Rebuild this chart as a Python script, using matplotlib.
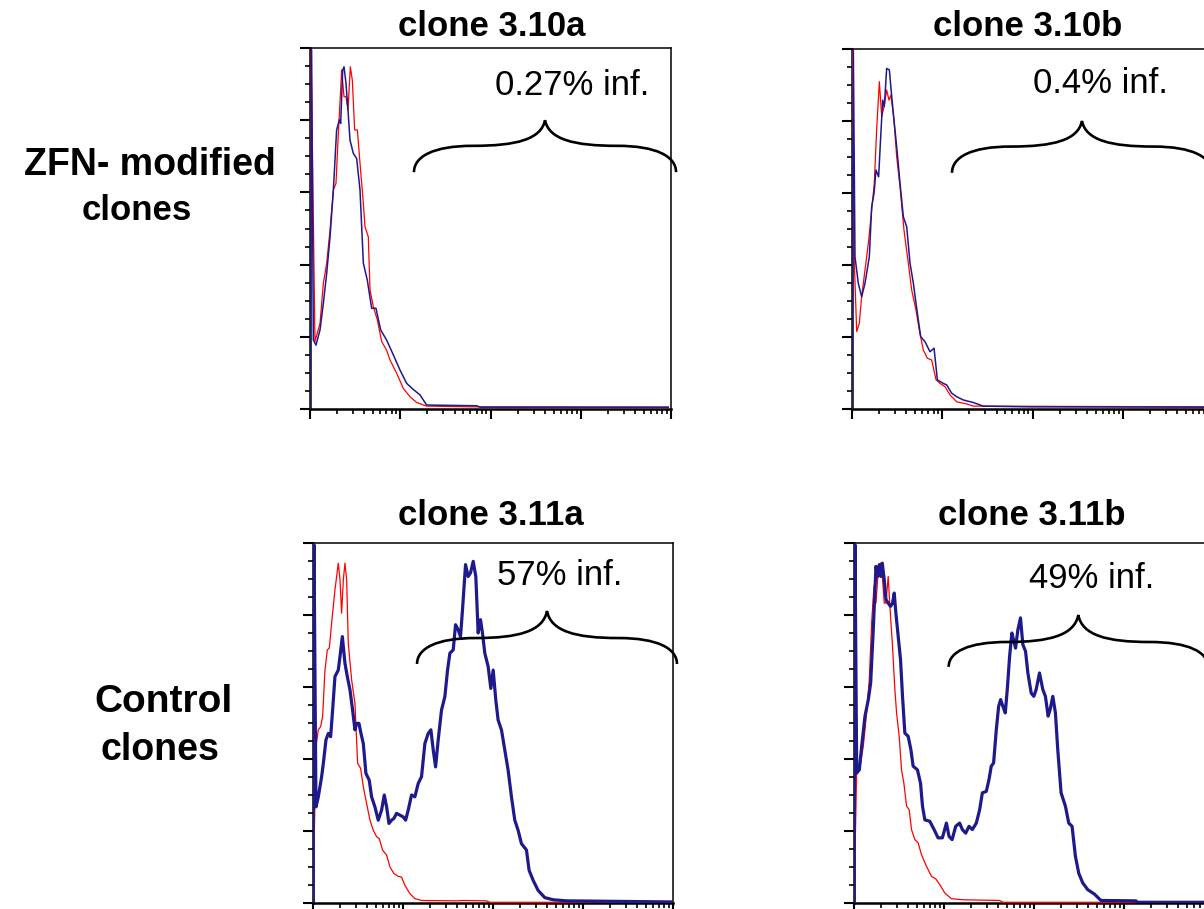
import numpy as np
import matplotlib
matplotlib.use("Agg")
import matplotlib.pyplot as plt
from matplotlib.path import Path
from matplotlib.patches import PathPatch
from matplotlib.ticker import MultipleLocator, LogLocator, NullFormatter

# ---------------- data (x = log10 fluorescence, y = % of max count) ----------------
titles = ["clone 3.10a", "clone 3.10b", "clone 3.11a", "clone 3.11b"]
infected_labels = ["0.27% inf.", "0.4% inf.", "57% inf.", "49% inf."]
row_labels = ["ZFN- modified\nclones", "Control\nclones"]

c310a_blue_x = [0.0, 0.018, 0.037, 0.066, 0.111, 0.148, 0.185, 0.222, 0.259, 0.295, 0.325, 0.340,
                0.362, 0.377, 0.399, 0.421, 0.443, 0.480, 0.517, 0.554, 0.591, 0.635, 0.683, 0.731,
                0.783, 0.849, 0.923, 0.997, 1.071, 1.145, 1.219, 1.292, 1.847, 1.883, 3.97]
c310a_blue_y = [0, 99.5, 19.1, 17.7, 21.9, 29.3, 37.6, 47.7, 60.7, 77.3, 80.1, 79.1,
                93.9, 94.8, 90.2, 82.8, 74.5, 70.8, 69.4, 60.7, 40.4, 35.7, 27.9, 27.9,
                21.9, 19.1, 15.0, 10.8, 7.1, 5.4, 3.9, 1.1, 0.9, 0.5, 0.5]
c310a_red_x = [0.0, 0.012, 0.055, 0.111, 0.148, 0.185, 0.222, 0.259, 0.288, 0.314, 0.351, 0.377,
               0.399, 0.421, 0.447, 0.469, 0.495, 0.525, 0.554, 0.591, 0.609, 0.646, 0.665, 0.702,
               0.746, 0.794, 0.849, 0.886, 0.960, 1.034, 1.108, 1.182, 1.292, 1.773, 3.97]
c310a_red_y = [0, 99.5, 18.7, 23.7, 34.8, 40.4, 49.6, 60.7, 62.5, 76.3, 93.9, 86.5,
               86.5, 82.8, 94.8, 91.1, 77.3, 77.3, 68.1, 57.0, 50.5, 47.7, 33.0, 28.3,
               24.7, 18.7, 16.3, 13.6, 9.9, 5.7, 3.4, 1.8, 0.8, 0.6, 0.5]

c310b_blue_x = [0.0, 0.015, 0.033, 0.070, 0.107, 0.144, 0.192, 0.218, 0.244, 0.266, 0.295, 0.318,
                0.340, 0.358, 0.384, 0.414, 0.440, 0.465, 0.495, 0.532, 0.569, 0.606, 0.643, 0.680,
                0.724, 0.761, 0.809, 0.864, 0.909, 0.946, 1.012, 1.049, 1.104, 1.160, 1.234, 1.344,
                1.455, 1.972, 3.97]
c310b_blue_y = [0, 99.5, 42.3, 34.9, 31.2, 34.9, 42.3, 56.2, 59.9, 66.4, 64.5, 75.6,
                85.8, 84.0, 94.6, 94.2, 86.8, 80.3, 72.9, 62.7, 53.4, 50.6, 40.5, 34.9,
                26.6, 20.1, 18.7, 15.9, 16.9, 8.1, 7.1, 6.7, 4.4, 3.4, 2.5, 1.8,
                0.8, 0.6, 0.5]
c310b_red_x = [0.0, 0.007, 0.026, 0.052, 0.081, 0.107, 0.144, 0.181, 0.218, 0.247, 0.273, 0.303,
               0.329, 0.355, 0.384, 0.410, 0.432, 0.465, 0.495, 0.532, 0.576, 0.624, 0.661, 0.709,
               0.746, 0.790, 0.835, 0.883, 0.931, 0.975, 1.031, 1.086, 1.160, 1.271, 1.344, 3.97]
c310b_red_y = [0, 99.5, 40.5, 21.5, 23.8, 31.2, 38.6, 46.0, 55.3, 62.7, 77.5, 90.9,
               81.2, 84.0, 88.6, 85.8, 87.2, 80.3, 70.1, 61.8, 49.7, 40.5, 33.1, 27.5,
               21.9, 16.4, 14.1, 13.6, 8.1, 7.1, 6.2, 3.9, 2.0, 1.4, 0.8, 0.6]

c311a_blue_x = [0.0, 0.011, 0.033, 0.059, 0.096, 0.115, 0.144, 0.170, 0.196, 0.218, 0.244, 0.281,
                0.300, 0.326, 0.355, 0.381, 0.411, 0.440, 0.466, 0.485, 0.511, 0.533, 0.559, 0.588,
                0.625, 0.651, 0.688, 0.725, 0.762, 0.792, 0.818, 0.844, 0.873, 0.899, 0.929, 0.966,
                1.003, 1.029, 1.058, 1.095, 1.132, 1.169, 1.206, 1.243, 1.280, 1.310, 1.336, 1.362,
                1.391, 1.428, 1.465, 1.495, 1.521, 1.558, 1.584, 1.613, 1.639, 1.661, 1.695, 1.724,
                1.750, 1.780, 1.809, 1.835, 1.861, 1.883, 1.909, 1.946, 1.976, 2.002, 2.031, 2.057,
                2.094, 2.131, 2.168, 2.205, 2.242, 2.279, 2.316, 2.372, 2.401, 2.446, 2.501, 2.575,
                2.668, 2.816, 3.98]
c311a_blue_y = [0, 99.5, 26.7, 29.5, 35.1, 38.8, 45.3, 47.1, 46.2, 53.6, 62.9, 64.7,
                68.5, 74.0, 66.6, 62.9, 59.2, 53.6, 48.1, 49.9, 49.9, 47.1, 44.3, 36.0,
                34.1, 29.5, 26.7, 23.0, 25.8, 30.0, 26.7, 22.1, 23.0, 23.5, 24.9, 24.4,
                23.9, 23.0, 25.8, 30.0, 29.5, 33.2, 35.1, 44.3, 47.1, 48.1, 42.5, 37.8,
                45.3, 53.6, 57.3, 64.7, 69.4, 70.3, 77.3, 75.9, 74.0, 81.4, 94.0, 90.7,
                91.7, 94.9, 90.7, 75.0, 78.7, 75.0, 69.4, 65.7, 59.6, 64.7, 56.4, 50.8,
                48.1, 42.5, 36.9, 29.5, 23.0, 20.2, 16.5, 14.7, 9.1, 6.3, 3.5, 1.5,
                0.9, 0.6, 0.3]
c311a_red_x = [0.0, 0.033, 0.059, 0.085, 0.107, 0.133, 0.159, 0.181, 0.207, 0.244, 0.281, 0.300,
               0.318, 0.337, 0.355, 0.374, 0.392, 0.429, 0.466, 0.496, 0.529, 0.559, 0.596, 0.633,
               0.670, 0.707, 0.736, 0.773, 0.818, 0.855, 0.899, 0.947, 0.984, 1.021, 1.077, 1.132,
               1.206, 1.595, 1.669, 1.928, 1.965, 3.98]
c311a_red_y = [0, 43.4, 48.1, 49.0, 51.8, 64.7, 70.3, 70.8, 77.7, 87.0, 94.4, 89.8,
               80.5, 89.8, 94.4, 89.8, 72.2, 62.0, 55.5, 38.8, 37.4, 32.3, 27.6, 23.0,
               20.2, 18.4, 17.9, 14.7, 13.3, 10.0, 8.2, 7.4, 7.2, 4.9, 2.6, 1.2,
               0.7, 0.6, 0.7, 0.6, 0.2, 0.2]

c311b_blue_x = [0.0, 0.011, 0.030, 0.059, 0.085, 0.122, 0.159, 0.185, 0.214, 0.244, 0.262, 0.281,
                0.299, 0.314, 0.336, 0.355, 0.380, 0.406, 0.428, 0.447, 0.465, 0.491, 0.517, 0.539,
                0.565, 0.602, 0.632, 0.657, 0.705, 0.739, 0.761, 0.787, 0.842, 0.890, 0.934, 0.982,
                1.027, 1.056, 1.090, 1.130, 1.174, 1.204, 1.241, 1.278, 1.315, 1.359, 1.396, 1.426,
                1.470, 1.500, 1.525, 1.551, 1.581, 1.607, 1.629, 1.655, 1.681, 1.703, 1.729, 1.754,
                1.773, 1.795, 1.821, 1.850, 1.876, 1.906, 1.932, 1.969, 1.998, 2.024, 2.061, 2.098,
                2.127, 2.157, 2.179, 2.209, 2.238, 2.264, 2.301, 2.349, 2.386, 2.423, 2.460, 2.497,
                2.541, 2.597, 2.670, 2.744, 3.132, 3.150, 3.98]
c311b_blue_y = [0, 99.5, 36.1, 37.0, 43.5, 51.9, 56.5, 61.1, 75.9, 93.5, 90.7, 94.0,
                90.7, 94.4, 89.8, 84.3, 83.3, 82.4, 83.3, 86.1, 80.6, 74.1, 67.6, 57.4,
                47.2, 46.3, 42.6, 38.0, 37.0, 33.3, 26.9, 23.1, 22.7, 20.4, 18.1, 18.1,
                22.2, 18.5, 17.6, 21.3, 22.2, 20.4, 19.4, 21.3, 20.4, 22.2, 25.9, 30.6,
                31.0, 34.3, 38.0, 38.9, 48.1, 54.6, 56.5, 54.6, 52.8, 59.3, 68.5, 75.0,
                73.1, 70.8, 75.9, 79.2, 71.8, 69.9, 63.9, 58.3, 57.4, 59.3, 63.9, 59.3,
                57.4, 51.9, 53.7, 57.4, 52.8, 42.6, 30.6, 26.9, 22.2, 21.3, 13.0, 8.3,
                5.6, 3.7, 2.5, 0.7, 0.6, 0.2, 0.2]
c311b_red_x = [0.0, 0.030, 0.074, 0.103, 0.140, 0.170, 0.196, 0.222, 0.244, 0.270, 0.296, 0.318,
               0.336, 0.355, 0.380, 0.399, 0.428, 0.454, 0.473, 0.502, 0.528, 0.554, 0.584, 0.613,
               0.639, 0.676, 0.713, 0.750, 0.805, 0.861, 0.909, 0.953, 1.008, 1.082, 1.211, 1.618,
               1.655, 3.98]
c311b_red_y = [0, 37.0, 38.9, 43.5, 52.8, 62.0, 77.8, 88.0, 83.3, 92.6, 94.4, 89.8,
               83.3, 83.3, 90.7, 82.4, 71.3, 59.3, 52.8, 46.3, 37.0, 33.3, 26.9, 25.9,
               20.4, 17.6, 16.7, 13.4, 10.2, 7.4, 6.7, 5.1, 2.8, 1.2, 0.9, 0.7,
               0.2, 0.2]

# ---------------- layout (pixels of a 1204x909 canvas) ----------------
W, H = 1204, 909
fig = plt.figure(figsize=(W / 100, H / 100), dpi=100)

panel_px = [(310, 48, 361, 361), (852, 49, 361, 360), (313, 543, 360, 360), (854, 543, 360, 360)]
title_px = [(492, 36), (1028, 36), (491, 525), (1032, 525)]
label_pos = [(0.726, 0.870), (0.687, 0.878), (0.685, 0.883), (0.661, 0.875)]
# brace: x_left, x_mid, y_end, y_horizontal, y_cusp (axes fraction)
brace_geo = [(0.288, 0.651, 0.656, 0.729, 0.800),
             (0.277, 0.637, 0.656, 0.729, 0.800),
             (0.289, 0.650, 0.664, 0.736, 0.811),
             (0.263, 0.623, 0.656, 0.725, 0.800)]
blue_lw = [1.1, 1.1, 2.3, 2.3]

series = [
    (c310a_red_x, c310a_red_y, c310a_blue_x, c310a_blue_y),
    (c310b_red_x, c310b_red_y, c310b_blue_x, c310b_blue_y),
    (c311a_red_x, c311a_red_y, c311a_blue_x, c311a_blue_y),
    (c311b_red_x, c311b_red_y, c311b_blue_x, c311b_blue_y),
]

RED = "#ff0000"
BLUE = "#1e1a8c"
FONT = "Liberation Sans"


def brace(ax, xl, xm, ye, yh, yc):
    w = xm - xl
    xr = xm + w
    verts = [
        (xl, ye),
        (xl, ye + 0.6 * (yh - ye)), (xl + 0.15 * w, yh), (xl + 0.45 * w, yh),
        (xl + 0.78 * w, yh), (xm - 0.03 * w, yh + 0.25 * (yc - yh)), (xm, yc),
        (xm + 0.03 * w, yh + 0.25 * (yc - yh)), (xr - 0.78 * w, yh), (xr - 0.45 * w, yh),
        (xr - 0.15 * w, yh), (xr, ye + 0.6 * (yh - ye)), (xr, ye),
    ]
    codes = [Path.MOVETO] + [Path.CURVE4] * 12
    patch = PathPatch(Path(verts, codes), transform=ax.transAxes, fill=False,
                      lw=1.9, color="black", clip_on=False, zorder=5)
    ax.add_patch(patch)


for i, (rx, ry, bx, by) in enumerate(series):
    l, t, w, h = panel_px[i]
    ax = fig.add_axes([l / W, 1 - (t + h) / H, w / W, h / H])
    ax.plot(10 ** np.array(rx), ry, color=RED, lw=0.9, zorder=3)
    ax.plot(10 ** np.array(bx), by, color=BLUE, lw=blue_lw[i], zorder=4)
    ax.set_xscale("log")
    ax.set_xlim(1, 1e4)
    ax.set_ylim(0, 100)
    ax.set_yticks(np.arange(0, 101, 20))
    ax.yaxis.set_minor_locator(MultipleLocator(5))
    ax.xaxis.set_major_locator(LogLocator(base=10, numticks=10))
    ax.xaxis.set_minor_locator(LogLocator(base=10, subs=np.arange(2, 10), numticks=20))
    ax.xaxis.set_minor_formatter(NullFormatter())
    ax.tick_params(which="major", direction="out", length=7, width=1.5, color="black",
                   labelleft=False, labelbottom=False)
    ax.tick_params(which="minor", direction="out", length=3.5, width=1.2, color="black")
    for s in ("left", "bottom"):
        ax.spines[s].set_linewidth(1.8)
    for s in ("top", "right"):
        ax.spines[s].set_linewidth(1.1)
    brace(ax, *brace_geo[i])
    ax.text(label_pos[i][0], label_pos[i][1], infected_labels[i], transform=ax.transAxes,
            ha="center", va="baseline", fontsize=25, family=FONT)
    tx, ty = title_px[i]
    fig.text(tx / W, 1 - ty / H, titles[i], ha="center", va="baseline", fontsize=25,
             fontweight="bold", family=FONT)

# row labels
zfn1, zfn2 = row_labels[0].split("\n")
ctl1, ctl2 = row_labels[1].split("\n")
fig.text(150 / W, 1 - 175 / H, zfn1, ha="center", va="baseline", fontsize=27,
         fontweight="bold", family=FONT)
fig.text(137 / W, 1 - 220 / H, zfn2, ha="center", va="baseline", fontsize=25,
         fontweight="bold", family=FONT)
fig.text(163 / W, 1 - 712 / H, ctl1, ha="center", va="baseline", fontsize=28,
         fontweight="bold", family=FONT)
fig.text(160 / W, 1 - 760 / H, ctl2, ha="center", va="baseline", fontsize=27,
         fontweight="bold", family=FONT)

fig.savefig("out.png", dpi=100, facecolor="white")
